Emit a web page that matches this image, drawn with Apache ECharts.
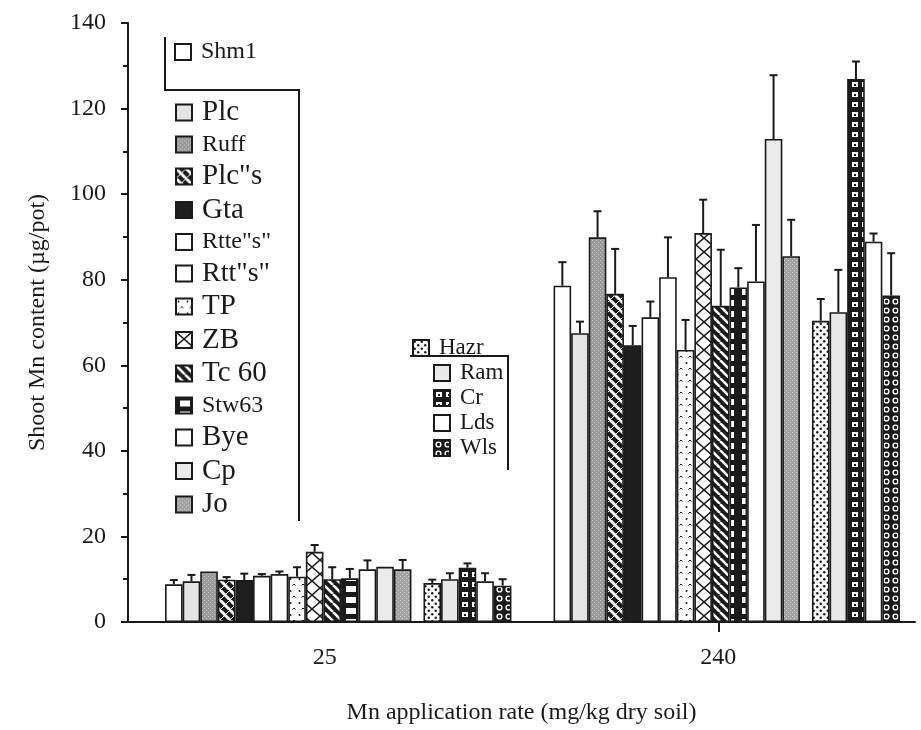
<!DOCTYPE html>
<html>
<head>
<meta charset="utf-8">
<script src="https://cdn.jsdelivr.net/npm/echarts@6/dist/echarts.min.js"></script>
<style>
  html, body { margin: 0; padding: 0; background: #ffffff; }
  #chart { width: 921px; height: 730px; }
</style>
</head>
<body>
<div id="chart"></div>
<script>
// Mn application rates (mg/kg dry soil) on the category axis
const rates = ['25', '240'];

// Cultivars, in plotting order
const cultivars = ['Shm1', 'Plc', 'Ruff', 'Plc"s', 'Gta', 'Rtte"s"', 'Rtt"s"', 'TP', 'ZB', 'Tc 60',
                   'Stw63', 'Bye', 'Cp', 'Jo', 'Hazr', 'Ram', 'Cr', 'Lds', 'Wls'];

// Shoot Mn content (µg/pot) and standard errors
const mn25   = [8.8, 9.5, 11.8, 9.9, 9.8, 10.8, 11.2, 10.6, 16.4, 10.0, 10.2, 12.3, 12.9, 12.3, 9.1, 10.0, 12.7, 9.5, 8.5];
const err25  = [1.0, 1.5, 0, 0.6, 1.5, 0.4, 0.6, 2.2, 1.6, 2.8, 2.2, 2.1, 0, 2.2, 0.8, 1.4, 1.0, 1.9, 1.5];
const mn240  = [78.6, 67.5, 89.9, 76.7, 64.7, 71.2, 80.6, 63.6, 90.9, 73.9, 78.2, 79.6, 112.9, 85.5, 70.4, 72.4, 126.9, 88.9, 76.3];
const err240 = [5.5, 2.7, 6.1, 10.5, 4.5, 3.7, 9.3, 7.0, 7.8, 13.1, 4.5, 13.2, 14.9, 8.5, 5.1, 9.9, 4.1, 1.9, 9.9];

// Y axis ticks
const yMin = 0, yMax = 140, yStep = 20;

// ---- layout / style constants ----
const FONT = '"Liberation Serif", "DejaVu Serif", serif';
const INK = '#1a1a1a';
const BAR_W = 17.6;       // width of each cultivar bar
const SPLIT_W = 12;       // space between the two cultivar sets
const SPLIT_AFTER = 14;   // the first 14 cultivars form the first set

// ---- fill patterns ----
function tile(w, h, draw) {
  const c = document.createElement('canvas');
  c.width = w; c.height = h;
  const g = c.getContext('2d');
  draw(g, w, h);
  return { image: c, repeat: 'repeat' };
}
function greyTex(base, speck) {
  return tile(4, 4, (g) => {
    g.fillStyle = base; g.fillRect(0, 0, 4, 4);
    g.fillStyle = speck; g.fillRect(0, 0, 1, 1); g.fillRect(2, 2, 1, 1);
  });
}
const braid = tile(10, 10, (g) => {
  g.fillStyle = INK; g.fillRect(0, 0, 10, 10);
  g.strokeStyle = '#fff'; g.lineWidth = 3;
  for (const k of [-10, 0, 10]) { g.beginPath(); g.moveTo(k, 0); g.lineTo(k + 10, 10); g.stroke(); }
  g.lineWidth = 1;
  for (const k of [-10, 0, 10]) { g.beginPath(); g.moveTo(k + 10, 0); g.lineTo(k, 10); g.stroke(); }
});
const hatch = tile(9, 9, (g) => {
  g.fillStyle = INK; g.fillRect(0, 0, 9, 9);
  g.strokeStyle = '#fff'; g.lineWidth = 2.6;
  for (const k of [-9, 0, 9]) { g.beginPath(); g.moveTo(k, 0); g.lineTo(k + 9, 9); g.stroke(); }
});
const xChain = tile(16, 14, (g) => {
  g.fillStyle = '#fff'; g.fillRect(0, 0, 16, 14);
  g.strokeStyle = INK; g.lineWidth = 1.5;
  g.beginPath(); g.moveTo(0, 0); g.lineTo(16, 14); g.moveTo(16, 0); g.lineTo(0, 14); g.stroke();
});
const specks = tile(9, 12, (g) => {
  g.fillStyle = '#fff'; g.fillRect(0, 0, 9, 12);
  g.fillStyle = INK; g.beginPath(); g.arc(2.5, 3, 1, 0, Math.PI * 2); g.fill();
  g.strokeStyle = INK; g.lineWidth = 1;
  g.beginPath(); g.moveTo(4.5, 9.5); g.lineTo(6, 8); g.lineTo(7.5, 9.5); g.stroke();
});
const bricks = tile(18, 11, (g) => {
  g.fillStyle = INK; g.fillRect(0, 0, 18, 11);
  g.fillStyle = '#fff'; g.fillRect(4, 3, 10, 6);
});
const dots = tile(7, 7, (g) => {
  g.fillStyle = '#fff'; g.fillRect(0, 0, 7, 7);
  g.fillStyle = INK;
  g.beginPath(); g.arc(1.75, 1.75, 1.2, 0, Math.PI * 2); g.fill();
  g.beginPath(); g.arc(5.25, 5.25, 1.2, 0, Math.PI * 2); g.fill();
});
const blots = tile(10, 10, (g) => {
  g.fillStyle = INK; g.fillRect(0, 0, 10, 10);
  g.fillStyle = '#fff'; g.fillRect(2, 2, 6, 5);
  g.fillStyle = INK; g.fillRect(4, 4, 2, 2);
});
const rings = tile(9, 9, (g) => {
  g.fillStyle = INK; g.fillRect(0, 0, 9, 9);
  g.strokeStyle = '#fff'; g.lineWidth = 1.4;
  g.beginPath(); g.arc(4.5, 4.5, 2.4, 0, Math.PI * 2); g.stroke();
});

const barFills = [
  '#ffffff', '#e4e4e4', greyTex('#9a9a9a', '#c8c8c8'), braid, '#1e1e1e', '#ffffff', '#ffffff',
  specks, xChain, hatch, bricks, '#ffffff', '#ebebeb', greyTex('#a2a2a2', '#cfcfcf'),
  dots, '#e8e8e8', blots, '#ffffff', rings
];

// legend label sizes
const legendSize = {
  'Shm1': 24, 'Plc': 29, 'Ruff': 24, 'Plc"s': 29, 'Gta': 29, 'Rtte"s"': 24, 'Rtt"s"': 28,
  'TP': 29, 'ZB': 29, 'Tc 60': 29, 'Stw63': 24, 'Bye': 29, 'Cp': 29, 'Jo': 29,
  'Hazr': 23, 'Ram': 23, 'Cr': 23, 'Lds': 23, 'Wls': 23
};

// ---- series ----
const series = [];
cultivars.forEach((name, i) => {
  if (i === SPLIT_AFTER) {
    series.push({ name: '', type: 'bar', xAxisIndex: 1, yAxisIndex: 1, barWidth: SPLIT_W,
                  barGap: '0%', data: [null, null], silent: true });
  }
  series.push({
    name: name,
    type: 'bar',
    xAxisIndex: 1, yAxisIndex: 1,
    barWidth: BAR_W,
    barGap: '0%',
    data: [mn25[i], mn240[i]],
    itemStyle: { color: barFills[i], borderColor: INK, borderWidth: 1.6 },
    emphasis: { disabled: true }
  });
});

// error bars on top of each bar
const errData = [];
cultivars.forEach((n, i) => {
  errData.push([0, i, mn25[i], err25[i]]);
  errData.push([1, i, mn240[i], err240[i]]);
});
const groupW = cultivars.length * BAR_W + SPLIT_W;
function barOffset(i) {
  return -groupW / 2 + i * BAR_W + BAR_W / 2 + (i >= SPLIT_AFTER ? SPLIT_W : 0);
}
series.push({
  name: 'errors',
  type: 'custom',
  xAxisIndex: 1, yAxisIndex: 1,
  z: 5,
  silent: true,
  data: errData,
  encode: { x: 0, y: 2 },
  renderItem: function (params, api) {
    const cat = api.value(0), idx = api.value(1), v = api.value(2), e = api.value(3);
    if (!(e > 0)) return null;
    const base = api.coord([cat, v]);
    const top = api.coord([cat, v + e]);
    const x = base[0] + barOffset(idx);
    const st = { stroke: INK, lineWidth: 2 };
    return {
      type: 'group',
      children: [
        { type: 'line', shape: { x1: x, y1: base[1], x2: x, y2: top[1] }, style: st },
        { type: 'line', shape: { x1: x - 4, y1: top[1], x2: x + 4, y2: top[1] }, style: st }
      ]
    };
  }
});

function legendData(names) {
  return names.map((n) => ({ name: n, textStyle: { fontSize: legendSize[n] } }));
}
const legendBase = {
  orient: 'vertical',
  padding: 0,
  icon: 'rect',
  itemWidth: 16,
  itemHeight: 16,
  selectedMode: false,
  itemStyle: { borderColor: INK, borderWidth: 2 },
  textStyle: { fontFamily: FONT, color: INK, padding: [0, 0, 0, 5] }
};

const option = {
  animation: false,
  backgroundColor: '#ffffff',
  textStyle: { fontFamily: FONT },
  grid: [
    { left: 128, top: 23, width: 787, height: 599 },
    { left: 144, top: 23, width: 786, height: 599 }
  ],
  legend: [
    Object.assign({}, legendBase, { left: 174, top: 39, data: legendData(cultivars.slice(0, 1)),
      textStyle: Object.assign({}, legendBase.textStyle, { lineHeight: 26 }) }),
    Object.assign({}, legendBase, { left: 175, top: 98, itemGap: 4.5, data: legendData(cultivars.slice(1, 14)),
      textStyle: Object.assign({}, legendBase.textStyle, { lineHeight: 26 }) }),
    Object.assign({}, legendBase, { left: 412, top: 336, data: legendData(cultivars.slice(14, 15)),
      textStyle: Object.assign({}, legendBase.textStyle, { lineHeight: 24 }) }),
    Object.assign({}, legendBase, { left: 433, top: 361, itemGap: 1, data: legendData(cultivars.slice(15)),
      textStyle: Object.assign({}, legendBase.textStyle, { lineHeight: 24 }) })
  ],
  xAxis: [
    {
      gridIndex: 0,
      type: 'category',
      data: rates,
      boundaryGap: true,
      axisLine: { show: true, lineStyle: { color: INK, width: 2 } },
      axisTick: { show: true, alignWithLabel: true, length: 10, interval: (i) => i === 1,
                  lineStyle: { color: INK, width: 2 } },
      axisLabel: { fontSize: 24, margin: 24, color: INK, fontFamily: FONT },
      name: 'Mn application rate (mg/kg dry soil)',
      nameLocation: 'middle',
      nameGap: 79,
      nameTextStyle: { fontSize: 24, color: INK, fontFamily: FONT }
    },
    { gridIndex: 1, type: 'category', data: rates, show: false }
  ],
  yAxis: [
    {
      gridIndex: 0,
      type: 'value',
      min: yMin, max: yMax, interval: yStep,
      axisLine: { show: true, lineStyle: { color: INK, width: 2 } },
      axisTick: { show: true, length: 7, lineStyle: { color: INK, width: 2 } },
      minorTick: { show: true, splitNumber: 2, length: 5, lineStyle: { color: INK, width: 2 } },
      splitLine: { show: false },
      axisLabel: { fontSize: 24, margin: 22, color: INK, fontFamily: FONT },
      name: 'Shoot Mn content (µg/pot)',
      nameLocation: 'middle',
      nameGap: 78,
      nameTextStyle: { fontSize: 24, color: INK, fontFamily: FONT }
    },
    { gridIndex: 1, type: 'value', min: yMin, max: yMax, interval: yStep, show: false }
  ],
  graphic: [
    { type: 'polyline', silent: true,
      shape: { points: [[165, 37], [165, 90], [299, 90], [299, 521]] },
      style: { stroke: INK, lineWidth: 2, fill: null } },
    { type: 'polyline', silent: true,
      shape: { points: [[410, 356], [508, 356], [508, 470]] },
      style: { stroke: INK, lineWidth: 2, fill: null } }
  ],
  series: series
};

const chart = echarts.init(document.getElementById('chart'), null, { renderer: 'canvas' });
chart.setOption(option);
</script>
</body>
</html>
